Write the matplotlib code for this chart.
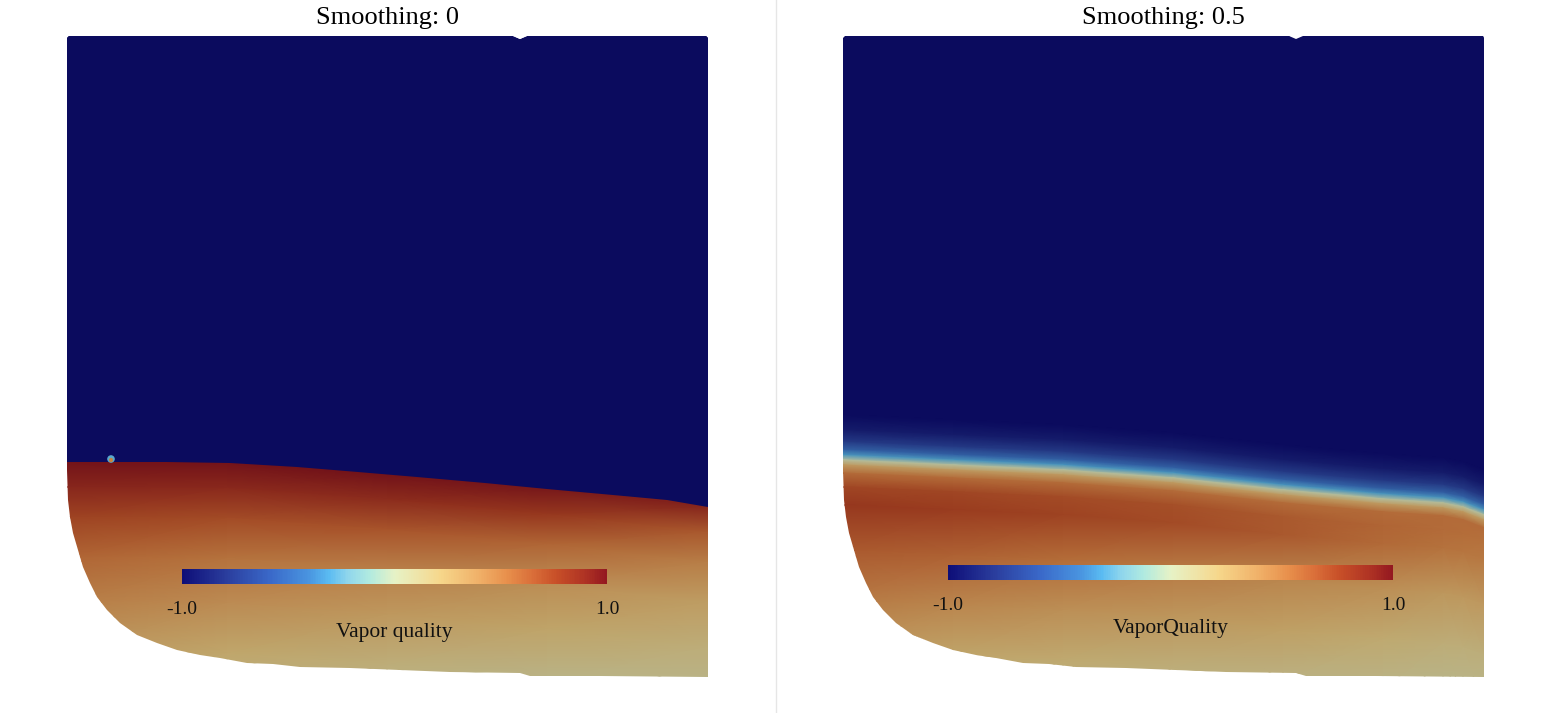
import numpy as np
import matplotlib
matplotlib.use("Agg")
import matplotlib.pyplot as plt
from matplotlib.colors import LinearSegmentedColormap, Normalize, to_rgb
from matplotlib.patches import Polygon
from matplotlib.cm import ScalarMappable
from matplotlib.lines import Line2D

plt.rcParams['font.family'] = ['Liberation Serif', 'DejaVu Serif']

# legend colour map, stops
cmap_pos = [0.0, 0.10, 0.205, 0.30, 0.345, 0.39, 0.44, 0.50,
            0.565, 0.61, 0.70, 0.765, 0.83, 0.88, 0.947, 1.0]
cmap_hex = ['#0e0e78', '#2a3c9c', '#3a68c8', '#4a96e0', '#5abbf2', '#90d6ec',
            '#b0eae0', '#e6f2c6', '#f0e2a4', '#f6d68a', '#f0b068', '#e8904c',
            '#d86c38', '#c85028', '#b03424', '#941820']

# outline of the domain (x to the right, y down from the top edge)
outline_x = [0, 1.5, 446, 453, 460, 639.5, 641, 641, 533, 463, 453, 383, 333, 283, 233,
             206, 180, 153, 133, 110, 90, 70, 53, 40, 30, 23, 16, 11, 6, 3, 0.5, 0]
outline_y = [1.5, 0, 0, 3, 0, 0, 1.5, 641, 640, 640, 637, 636, 634, 632, 631,
             628, 627, 622, 619, 614, 607, 599, 587, 574, 561, 547, 531, 514, 497, 481, 464, 434]

# smoothing 0: sharp interface
sharp_iface_x = [0, 50, 100, 163, 230, 291, 350, 418, 480, 546, 600, 641]
sharp_iface_y = [426, 426, 426, 427, 431, 436, 441, 447, 453, 459, 464, 471]
sharp_cols = [0, 160, 320, 480, 641]
sharp_depth = [-6, 0, 25, 55, 95, 140, 190, 240]
sharp_q = [
    [1.00, 1.00, 1.00, 0.97, 0.90],
    [1.00, 1.00, 1.00, 0.97, 0.90],
    [0.90, 0.89, 0.87, 0.80, 0.64],
    [0.74, 0.70, 0.66, 0.58, 0.46],
    [0.58, 0.52, 0.45, 0.37, 0.28],
    [0.46, 0.39, 0.31, 0.24, 0.16],
    [0.30, 0.22, 0.16, 0.10, 0.06],
    [0.14, 0.10, 0.06, 0.03, 0.02],
]
blob_x = [44]
blob_y = [423]

# smoothing 0.5: diffuse interface
smooth_cols = [0, 110, 220, 330, 440, 540, 600, 620, 641]
smooth_iface_y = [424, 429, 434, 442, 454, 463, 467, 471, 479]
glow_offsets = [-480, -45, -30, -18, -10, -5, 0, 5, 13]
glow_q = [-1.0, -1.0, -0.9, -0.72, -0.5, -0.3, 0.0, 0.3, 0.55]
deep_offsets = [27, 45, 90, 140, 190, 250]
deep_q = [
    [0.72, 0.72, 0.70, 0.68, 0.64, 0.58, 0.55, 0.54, 0.52],
    [0.80, 0.77, 0.74, 0.70, 0.64, 0.56, 0.52, 0.50, 0.48],
    [0.64, 0.60, 0.54, 0.48, 0.42, 0.36, 0.32, 0.31, 0.30],
    [0.48, 0.42, 0.36, 0.32, 0.26, 0.20, 0.17, 0.16, 0.15],
    [0.30, 0.24, 0.20, 0.16, 0.12, 0.09, 0.07, 0.065, 0.06],
    [0.12, 0.08, 0.06, 0.04, 0.03, 0.02, 0.02, 0.02, 0.02],
]

shade = 0.78
legend_cmap = LinearSegmentedColormap.from_list('vq', list(zip(cmap_pos, cmap_hex)))
field_cmap = LinearSegmentedColormap.from_list(
    'vq_lit', [(p, tuple(c * shade for c in to_rgb(h))) for p, h in zip(cmap_pos, cmap_hex)])
norm = Normalize(-1, 1)

W, H = 1551, 713
fig = plt.figure(figsize=(W / 100, H / 100), dpi=100)


def outline_patch(ax):
    return Polygon(np.column_stack([outline_x, outline_y]), closed=True,
                   transform=ax.transData)


def panel_axes(x0):
    ax = fig.add_axes([x0 / W, (H - 677) / H, 641 / W, 641 / H])
    ax.set_xlim(0, 641)
    ax.set_ylim(641, 0)
    ax.axis('off')
    return ax


def draw_mesh(ax, cols, iface, offsets, q):
    X = np.tile(np.asarray(cols, float), (len(offsets), 1))
    Y = np.asarray(iface, float)[None, :] + np.asarray(offsets, float)[:, None]
    m = ax.pcolormesh(X, Y, np.asarray(q), cmap=field_cmap, norm=norm, shading='gouraud')
    m.set_clip_path(outline_patch(ax))
    return m


def add_colorbar(x0, x1, ytop, label):
    cax = fig.add_axes([x0 / W, (H - ytop - 15) / H, (x1 - x0) / W, 15 / H])
    cb = fig.colorbar(ScalarMappable(norm=norm, cmap=legend_cmap), cax=cax,
                      orientation='horizontal', ticks=[-1, 1])
    cb.outline.set_visible(False)
    cb.set_ticklabels(['-1.0', '1.0'])
    cax.tick_params(length=0, pad=12, labelsize=14, colors='#111111')
    cax.set_xlabel(label, fontsize=15.5, labelpad=4, color='#111111')


# left panel: Smoothing 0
ax1 = panel_axes(67)
sharp_at_cols = np.interp(sharp_cols, sharp_iface_x, sharp_iface_y)
draw_mesh(ax1, sharp_cols, sharp_at_cols, sharp_depth, sharp_q)
top_pts = list(zip(outline_x[:7], outline_y[:7]))
vapor = Polygon(top_pts + list(zip(sharp_iface_x[::-1], sharp_iface_y[::-1])), closed=True,
                facecolor=field_cmap(norm(-1.0)), edgecolor='none', zorder=3)
ax1.add_patch(vapor)
vapor.set_clip_path(outline_patch(ax1))
ax1.scatter(blob_x, blob_y, s=30, color='#5aa8cc', edgecolors='none', zorder=4)
ax1.scatter(blob_x, np.array(blob_y) + 1, s=9, color='#c8843e', edgecolors='none', zorder=5)

# right panel: Smoothing 0.5
ax2 = panel_axes(843)
smooth_q = np.vstack([np.tile(np.array(glow_q)[:, None], (1, len(smooth_cols))),
                      np.array(deep_q)])
draw_mesh(ax2, smooth_cols, smooth_iface_y, glow_offsets + deep_offsets, smooth_q)

fig.text(388 / W, 1 - 18 / H, 'Smoothing: 0', ha='center', va='center', fontsize=19)
fig.text(1163 / W, 1 - 18 / H, 'Smoothing: 0.5', ha='center', va='center', fontsize=19)

add_colorbar(182, 607, 569, 'Vapor quality')
add_colorbar(948, 1393, 565, 'VaporQuality')

fig.add_artist(Line2D([775.5 / W, 775.5 / W], [0, 1], transform=fig.transFigure,
                      color='#e6e6e6', lw=1))

fig.savefig('out.png', dpi=100, facecolor='white')
